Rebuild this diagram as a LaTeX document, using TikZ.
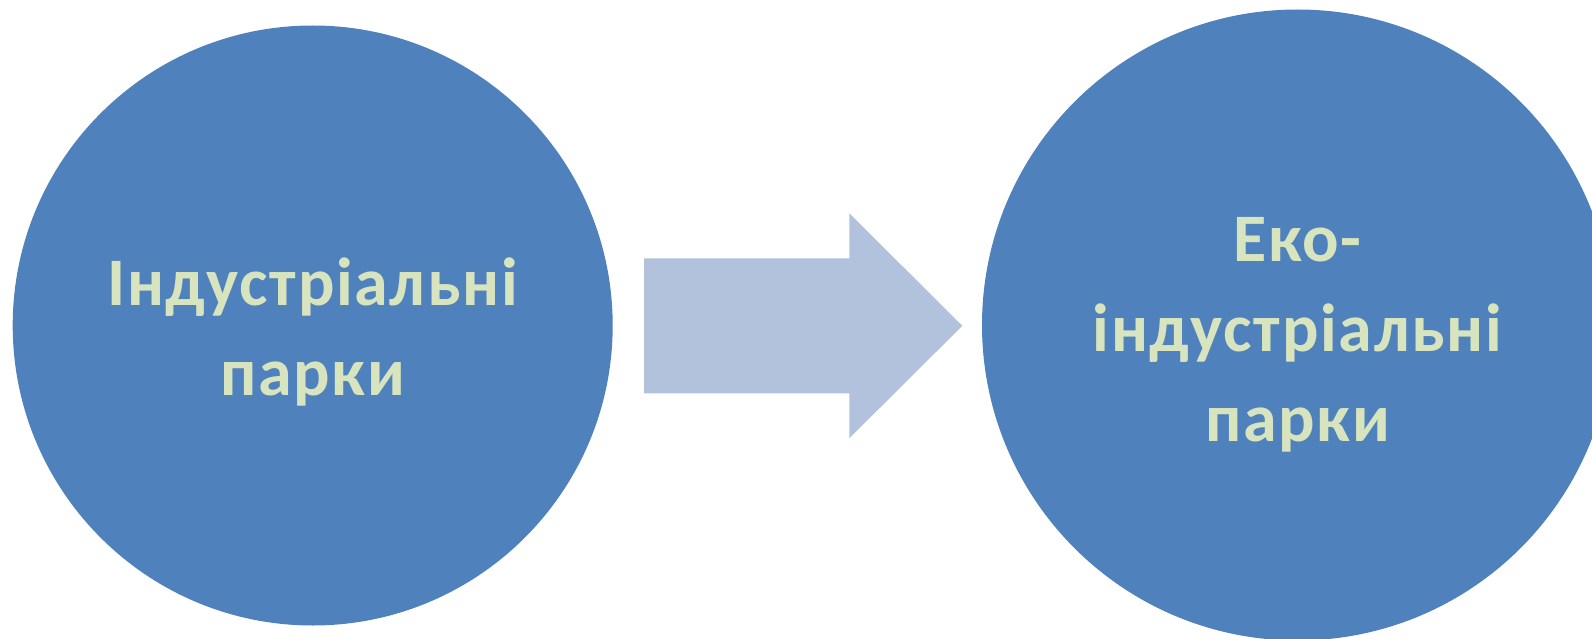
\documentclass[tikz,border=0pt]{standalone}
\usepackage{fontspec}
\setmainfont[LetterSpace=2.5]{Carlito}
\usepackage{xcolor}

\definecolor{circleblue}{HTML}{4F81BD}
\definecolor{arrowblue}{HTML}{B3C2DC}
\definecolor{labelgreen}{HTML}{D7E4BD}

\begin{document}
\begin{tikzpicture}[x=1pt,y=-1pt,
    park node/.style={circle,fill=circleblue,draw=none,inner sep=0pt},
    park label/.style={text=labelgreen,align=center,inner sep=0pt,
        font=\bfseries\fontsize{68}{90}\selectfont},
    big arrow/.style={fill=arrowblue,draw=none}]

            \useasboundingbox (0,0) rectangle (1592,639);
            \clip (0,0) rectangle (1592,639);

            \node[park node, minimum size=600pt] (ind) at (312.7,325.5) {};
            \node[park node, minimum size=631pt] (eco) at (1297.5,325) {};

            \node[park label, yshift=-6pt] (ind text) at (ind.center) {Індустріальні\\парки};
            \node[park label, yshift=-10pt] (eco text) at (eco.center) {Еко-\\індустріальні\\парки};

            % arrow between the two parks
            \coordinate (tail) at (644,325.8);
            \coordinate (tip) at (962.3,325.8);
            \fill[big arrow] (tail) ++(0,-67.5) -- ++(205.3,0) -- ++(0,-45)
                -- (tip) -- ++(-113,112.5) -- ++(0,-45) -- ++(-205.3,0) -- cycle;

            ;
        \end{tikzpicture}
\end{document}
